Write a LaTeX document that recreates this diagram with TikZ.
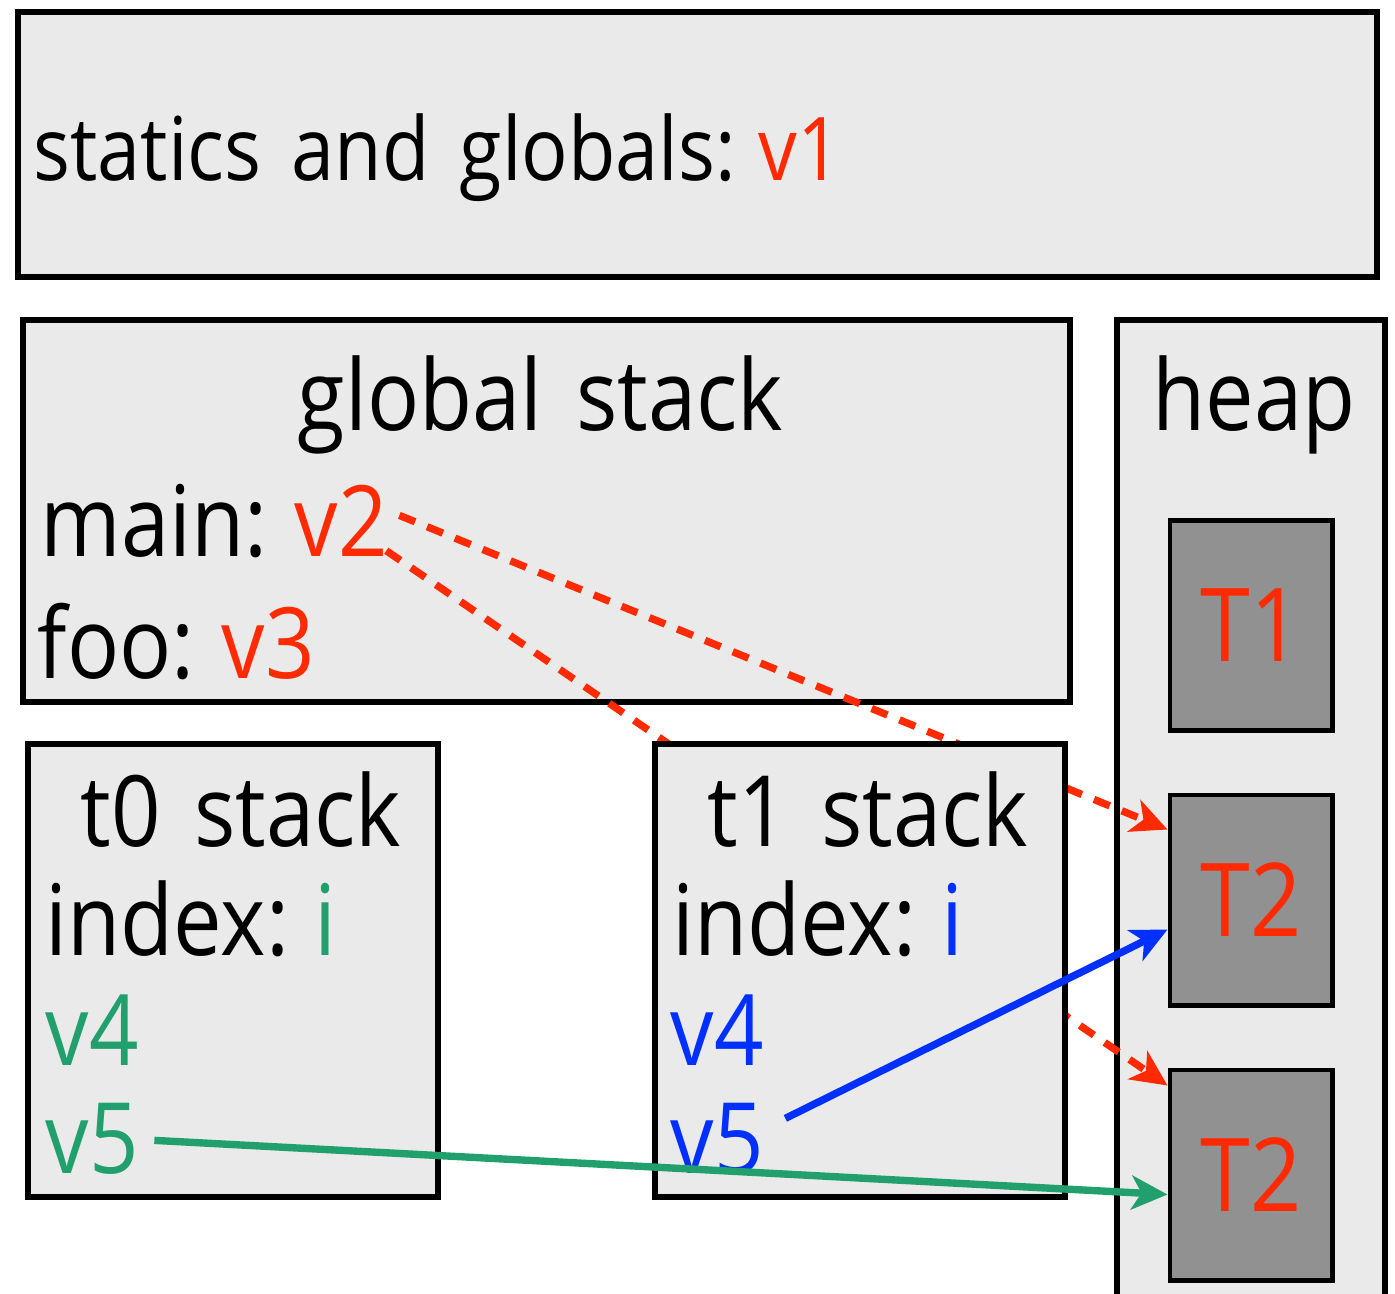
\documentclass[tikz,border=0pt]{standalone}
\usepackage{fontspec}
\setmainfont{Open Sans}[FakeStretch=0.88, WordSpace=1.5]
\usetikzlibrary{arrows.meta}

\definecolor{vred}{HTML}{FF2A00}
\definecolor{vgreen}{HTML}{21A06E}
\definecolor{vblue}{HTML}{0030FF}
\definecolor{panel}{HTML}{EAEAEA}
\definecolor{cell}{HTML}{919191}

\newcommand{\gap}{\kern0.26em}

\begin{document}
\begin{tikzpicture}[x=0.01cm, y=-0.01cm,
  region/.style={draw=black, line width=1.6pt, fill=panel},
  cellbox/.style={draw=black, line width=1.4pt, fill=cell, minimum width=1.62cm,
    minimum height=2.1cm, inner sep=0pt, text=vred, font=\fontsize{29}{34}\selectfont},
  lbl/.style={anchor=base west, inner sep=0pt, font=\fontsize{28}{33}\selectfont},
  small/.style={anchor=base west, inner sep=0pt, font=\fontsize{25}{29}\selectfont},
  ref/.style={line width=2.1pt, -{Stealth[length=0.36cm, width=0.34cm, inset=0.1cm]}},
  weakref/.style={ref, vred, dash pattern=on 0.17cm off 0.13cm},
]
\clip (0,0) rectangle (1395,1293);

% memory regions
\path[region] (18,12) rectangle (1377,277);
\path[region] (23,320) rectangle (1070,702);
\path[region] (1117,320) rectangle (1385,1330);

% heap objects
\node[cellbox] (T1)  at (1251,625.5) {T1};
\node[cellbox] (T2a) at (1251,900)   {T2};
\node[cellbox] (T2b) at (1251,1175)  {T2};

% statics and globals
\node[small] (statics) at (33,180) {statics and globals:\gap\textcolor{vred}{v1}};

% global stack
\node[lbl] (gstack) at (297,430) {global stack};
\node[lbl] (heap) at (1152,430) {heap};
\node[lbl] (main) at (40,556) {main:\gap};
\node[lbl, text=vred, anchor=base west] (v2) at (main.base east) {v2};
\node[lbl] (foo) at (37,678) {foo:\gap};
\node[lbl, text=vred, anchor=base west] (v3) at (foo.base east) {v3};

% references held by main
\draw[weakref] ([shift={(11,-5)}]v2.east) -- ([shift={(0,37)}]T2a.north west);
\draw[weakref] ([shift={(-2,-6)}]v2.south east) -- ([shift={(0,18)}]T2b.north west);

% thread stacks
\path[region] (28,744) rectangle (438,1197);
\path[region] (655,744) rectangle (1065,1197);

\node[lbl] (t0) at (80,846) {t0 stack};
\node[lbl] (idx0) at (45,955) {index:\gap\textcolor{vgreen}{i}};
\node[lbl, text=vgreen] (v4a) at (45,1065) {v4};
\node[lbl, text=vgreen] (v5a) at (45,1173) {v5};

\node[lbl] (t1) at (707,846) {t1 stack};
\node[lbl] (idx1) at (672,955) {index:\gap\textcolor{vblue}{i}};
\node[lbl, text=vblue] (v4b) at (670,1065) {v4};
\node[lbl, text=vblue] (v5b) at (670,1173) {v5};

% references held by the threads
\draw[ref, vblue] ([shift={(21,-20)}]v5b.east) -- ([shift={(0,137)}]T2a.north west);
\draw[ref, vgreen] ([shift={(15,2)}]v5a.east) -- ([shift={(0,127)}]T2b.north west);
\end{tikzpicture}
\end{document}
